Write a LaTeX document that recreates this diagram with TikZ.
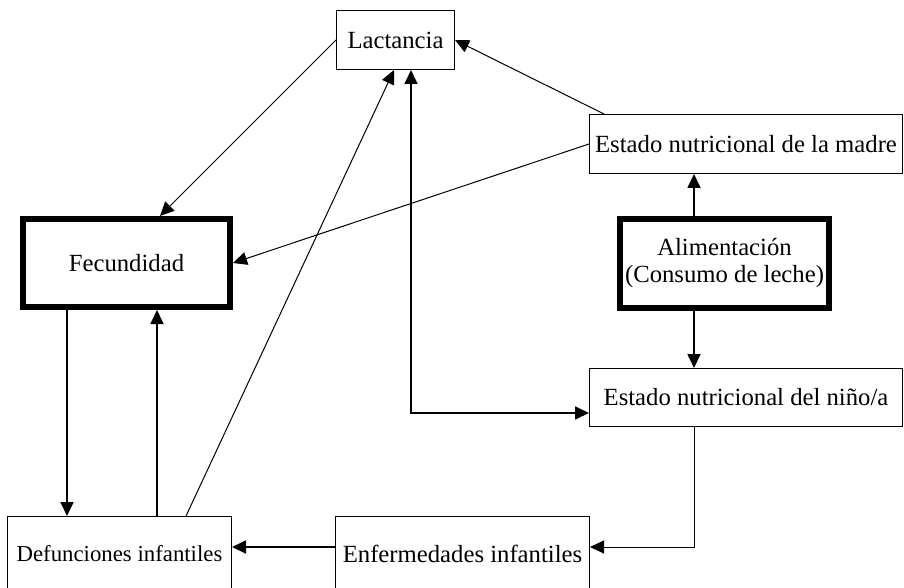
\documentclass[tikz,border=0pt]{standalone}
\usepackage{fontspec}
\setmainfont{Liberation Serif}
\usetikzlibrary{arrows.meta,positioning}

\begin{document}
\begin{tikzpicture}[x=0.5pt,y=-0.5pt,
	>={Triangle[length=7pt,width=6.5pt]},
	box/.style={draw, line width=0.5pt, inner sep=0pt, align=center, font=\fontsize{12.35}{13.5}\selectfont},
	mainbox/.style={box, line width=2.8pt},
	link/.style={->, line width=0.5pt},
	flow/.style={->, line width=0.85pt}]
	\useasboundingbox (0,0) rectangle (904,588);
	\clip (0,0) rectangle (904,588);
	% BOXES
	\node[box, minimum width=59pt, minimum height=29.5pt] (lact) at (395.5,40) {Lactancia};
	\node[mainbox, minimum width=103.7pt, minimum height=44.2pt] (fec) at (126.5,263) {Fecundidad};
	\node[box, minimum width=156.5pt, minimum height=29.5pt] (madre) at (746,144) {Estado nutricional de la madre};
	\node[mainbox, minimum width=104.7pt, minimum height=44.7pt] (alim) at (724.5,263.5) {Alimentación\\(Consumo de leche)};
	\node[box, minimum width=156.5pt, minimum height=29pt] (nino) at (746,397.5) {Estado nutricional del niño/a};
	\node[box, minimum width=112pt, minimum height=37pt, font=\fontsize{11.4}{13}\selectfont] (def) at (119.5,553.5) {Defunciones infantiles};
	\node[box, minimum width=127pt, minimum height=37pt] (enf) at (462.5,553.5) {Enfermedades infantiles};
	% COLUMNS AND ROWS
	\coordinate (colA) at (67,0);
	\coordinate (colB) at (157,0);
	\coordinate (colC) at (186,0);
	\coordinate (colD) at (394,0);
	\coordinate (colE) at (160,0);
	\coordinate (colF) at (604,0);
	\coordinate (colH) at (694,0);
	\coordinate (mid) at (411,413);
	\coordinate (row) at (0,547);
	% LEFT
	\draw[flow] (fec.south -| colA) -- (def.north -| colA);
	\draw[flow] (def.north -| colB) -- (fec.south -| colB);
	\draw[link] (def.north -| colC) -- (lact.south -| colD);
	\draw[link] (lact.west) -- (fec.north -| colE);
	% RIGHT
	\draw[link] (madre.north -| colF) -- (lact.east);
	\draw[link] (madre.west) -- (fec.east);
	\draw[flow] (alim.north -| colH) -- (madre.south -| colH);
	\draw[flow] (alim.south -| colH) -- (nino.north -| colH);
	\draw[flow, <->] (lact.south -| mid) -- (mid) -- (nino.west |- mid);
	% BOTTOM
	\draw[link] (nino.south -| colH) -- (colH |- row) -- (enf.east |- row);
	\draw[flow] (enf.west |- row) -- (def.east |- row);
\end{tikzpicture}
\end{document}
